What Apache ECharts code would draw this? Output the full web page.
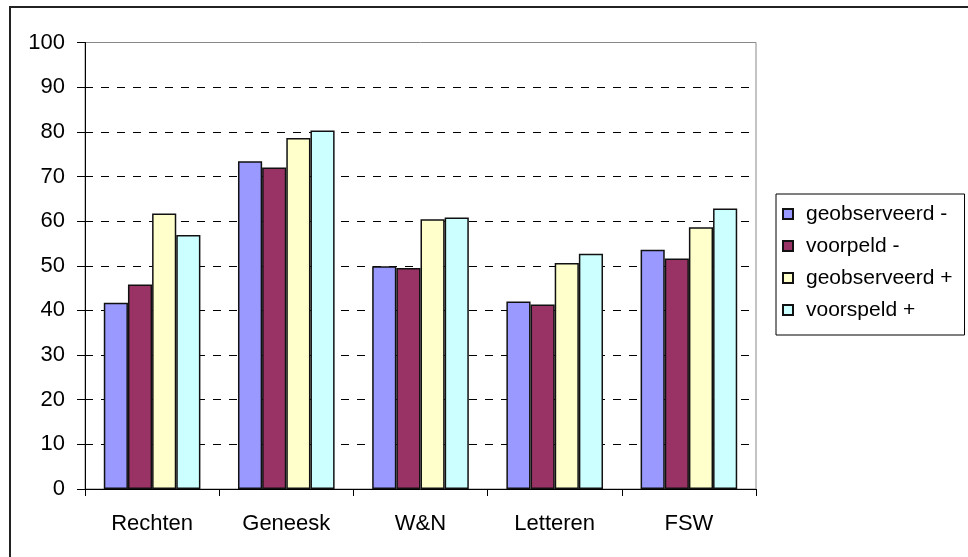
<!DOCTYPE html>
<html>
<head>
<meta charset="utf-8">
<script src="https://cdn.jsdelivr.net/npm/echarts@6/dist/echarts.min.js"></script>
<style>
  html, body { margin: 0; padding: 0; background: #fff; }
  #frame { position: absolute; left: 9px; top: 6px; width: 1000px; height: 600px;
           border-left: 2px solid #222; border-top: 2px solid #222; }
  #chartDiv { position: absolute; left: 0; top: 0; width: 968px; height: 557px; }
</style>
</head>
<body>
<div id="frame"></div>
<div id="chartDiv"></div>
<script>
var categories = ['Rechten', 'Geneesk', 'W&N', 'Letteren', 'FSW'];
var seriesNames = ['geobserveerd -', 'voorpeld -', 'geobserveerd +', 'voorspeld +'];
var geobserveerdMin = [41.7, 73.4, 49.9, 42.0, 53.6];
var voorpeldMin = [45.8, 72.0, 49.5, 41.3, 51.6];
var geobserveerdPlus = [61.7, 78.6, 60.4, 50.6, 58.6];
var voorspeldPlus = [56.9, 80.3, 60.8, 52.7, 62.8];
var colors = ['#9999FF', '#993366', '#FFFFCC', '#CCFFFF'];

var myChart = echarts.init(document.getElementById('chartDiv'));
var font = 'Liberation Sans, Arial, sans-serif';

var mkSeries = function(name, data, color){
    return {
        name: name,
        type: 'bar',
        data: data,
        barGap: '0%',
        barCategoryGap: '28%',
        itemStyle: { color: color, borderColor: '#111', borderWidth: 1.5 },
        emphasis: { disabled: true }
    };
};

var option = {
    animation: false,
    color: colors,
    grid: {
        left: 85, right: 212, top: 42.5, bottom: 68,
        show: true, borderColor: '#888', borderWidth: 1
    },
    legend: {
        orient: 'vertical',
        left: 776, top: 194,
        padding: [8, 12, 13, 6],
        itemGap: 8,
        itemWidth: 10, itemHeight: 10,
        icon: 'rect',
        borderColor: '#000', borderWidth: 1,
        textStyle: { fontFamily: font, fontSize: 21, color: '#000', lineHeight: 24, padding: [0, 0, 0, 8] },
        data: seriesNames
    },
    xAxis: {
        type: 'category',
        data: categories,
        axisLine: { lineStyle: { color: '#000', width: 1 } },
        axisTick: { show: true, length: 7, lineStyle: { color: '#000' } },
        axisLabel: { fontFamily: font, fontSize: 22, color: '#000', margin: 24 }
    },
    yAxis: {
        type: 'value',
        min: 0, max: 100, interval: 10,
        axisLine: { show: true, lineStyle: { color: '#000', width: 1 } },
        axisTick: { show: true, length: 8, lineStyle: { color: '#000' } },
        axisLabel: { fontFamily: font, fontSize: 22, color: '#000', margin: 20 },
        splitLine: {
            show: true, showMaxLine: false,
            lineStyle: { color: '#000', type: [8, 8], width: 1 }
        }
    },
    series: [
        mkSeries(seriesNames[0], geobserveerdMin, colors[0]),
        mkSeries(seriesNames[1], voorpeldMin, colors[1]),
        mkSeries(seriesNames[2], geobserveerdPlus, colors[2]),
        mkSeries(seriesNames[3], voorspeldPlus, colors[3])
    ]
};

myChart.setOption(option);
</script>
</body>
</html>
